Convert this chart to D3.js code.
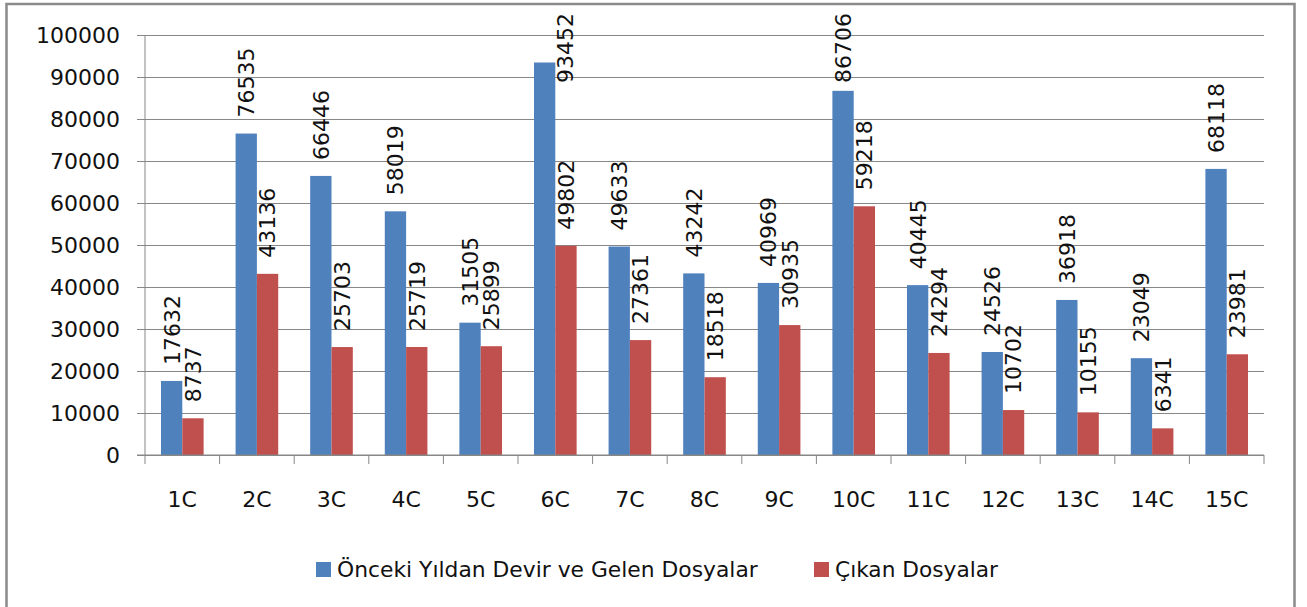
<!DOCTYPE html>
<html>
<head>
<meta charset="utf-8">
<script src="https://cdn.jsdelivr.net/npm/d3@7"></script>
<style>
  body { margin: 0; background: #fff; }
  svg { display: block; }
  text { font-family: "DejaVu Sans", sans-serif; fill: #111; }
</style>
</head>
<body>
<svg width="1307" height="607"></svg>
<script>
// dava dosyası verileri
const categories = ["1C", "2C", "3C", "4C", "5C", "6C", "7C", "8C", "9C", "10C", "11C", "12C", "13C", "14C", "15C"];
const seriesNames = ["Önceki Yıldan Devir ve Gelen Dosyalar", "Çıkan Dosyalar"];
const gelenValues = [17632, 76535, 66446, 58019, 31505, 93452, 49633, 43242, 40969, 86706, 40445, 24526, 36918, 23049, 68118];
const cikanValues = [8737, 43136, 25703, 25719, 25899, 49802, 27361, 18518, 30935, 59218, 24294, 10702, 10155, 6341, 23981];
const yTicks = [0, 10000, 20000, 30000, 40000, 50000, 60000, 70000, 80000, 90000, 100000];
const colors = ["#4F81BD", "#C0504D"];

const svg = d3.select("svg");
const plot = { left: 145, right: 1264, top: 35, bottom: 455 };

// çerçeve
svg.append("rect")
    .attr("x", 6.5).attr("y", 4)
    .attr("width", 1288).attr("height", 640)
    .attr("fill", "none")
    .attr("stroke", "#8a8a8a")
    .attr("stroke-width", 2.5);

const x0 = d3.scaleBand().domain(categories).range([plot.left, plot.right]);
const x1 = d3.scaleBand().domain([0, 1]).range([0, x0.bandwidth()]).paddingOuter(0.75);
const y = d3.scaleLinear().domain([0, 100000]).range([plot.bottom, plot.top]);

// y ekseni + ızgara
const yAxis = svg.append("g")
    .attr("transform", `translate(${plot.left},0)`)
    .call(d3.axisLeft(y).tickValues(yTicks).tickFormat(d3.format("d")).tickSizeOuter(0).tickPadding(0));
yAxis.select(".domain").remove();
yAxis.selectAll(".tick line")
    .attr("x1", -8).attr("x2", plot.right - plot.left)
    .attr("stroke", "#878787");
yAxis.selectAll(".tick text")
    .attr("x", -25)
    .attr("dy", "0.36em")
    .style("font-size", "22px")
    .style("font-family", "DejaVu Sans");

svg.append("line")
    .attr("x1", plot.left).attr("x2", plot.left)
    .attr("y1", plot.top).attr("y2", plot.bottom + 9)
    .attr("stroke", "#878787");

// x ekseni
const bounds = categories.map(c => x0(c)).concat([x0(categories[categories.length - 1]) + x0.bandwidth()]);
svg.append("g").selectAll("line")
    .data(bounds.slice(1))
    .join("line")
    .attr("x1", d => d).attr("x2", d => d)
    .attr("y1", plot.bottom).attr("y2", plot.bottom + 9)
    .attr("stroke", "#878787");

svg.append("g").selectAll("text")
    .data(categories)
    .join("text")
    .attr("x", d => x0(d) + x0.bandwidth() / 2)
    .attr("y", 507)
    .attr("text-anchor", "middle")
    .style("font-size", "22px")
    .text(d => d);

// çubuklar
const data = categories.map((c, i) => ({ cat: c, values: [gelenValues[i], cikanValues[i]] }));

const groups = svg.append("g").selectAll("g")
    .data(data)
    .join("g")
    .attr("transform", d => `translate(${x0(d.cat)},0)`);

groups.selectAll("rect")
    .data(d => d.values.map((v, k) => ({ v, k })))
    .join("rect")
    .attr("x", d => x1(d.k))
    .attr("y", d => y(d.v))
    .attr("width", x1.bandwidth())
    .attr("height", d => plot.bottom - y(d.v))
    .attr("fill", d => colors[d.k]);

svg.append("line")
    .attr("x1", plot.left - 8).attr("x2", plot.right)
    .attr("y1", plot.bottom).attr("y2", plot.bottom)
    .attr("stroke", "#878787");

// değer etiketleri (dikey)
const labels = svg.append("g");
data.forEach(d => {
    d.values.forEach((v, k) => {
        const barLeft = x0(d.cat) + x1(k);
        const barTop = y(v);
        let cx = barLeft + x1.bandwidth() / 2;
        const t = labels.append("text")
            .attr("text-anchor", "start")
            .attr("dy", "0.36em")
            .style("font-size", "22px")
            .text(v);
        const len = t.node().getComputedTextLength();
        let start = barTop - 16;
        if (start - len < 13) start = 13 + len;
        if (start > barTop - 2) cx = barLeft + x1.bandwidth() + 10;
        t.attr("transform", `translate(${cx},${start}) rotate(-90)`);
    });
});

// lejant
const legendItems = [{ x: 316, w: 421 }, { x: 814, w: 163 }];
const legend = svg.append("g").attr("class", "legend");
legendItems.forEach((item, i) => {
    legend.append("rect")
        .attr("x", item.x).attr("y", 562)
        .attr("width", 15).attr("height", 15)
        .attr("fill", colors[i]);
    const t = legend.append("text")
        .style("font-size", "22px")
        .text(seriesNames[i]);
    const sx = item.w / t.node().getComputedTextLength();
    t.attr("transform", `translate(${item.x + 21},577) scale(${sx},1)`);
});
</script>
</body>
</html>
